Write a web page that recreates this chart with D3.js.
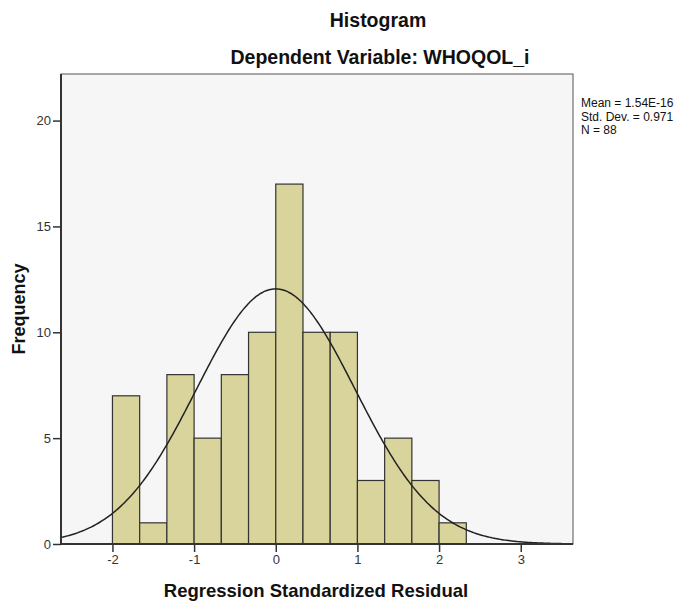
<!DOCTYPE html>
<html>
<head>
<meta charset="utf-8">
<script src="https://cdn.jsdelivr.net/npm/d3@7"></script>
<style>
  body { margin: 0; background: #fff; }
  text { font-family: Arial, "Liberation Sans", sans-serif; }
</style>
</head>
<body>
<svg id="chart"></svg>
<script>
// bins of width 1/3 starting at -2
var binStarts = [-2, -5/3, -4/3, -1, -2/3, -1/3, 0, 1/3, 2/3, 1, 4/3, 5/3, 2];
var binCounts = [7, 1, 8, 5, 8, 10, 17, 10, 10, 3, 5, 3, 1];
var binWidth = 1/3;
var xTicks = [-2, -1, 0, 1, 2, 3];
var yTicks = [0, 5, 10, 15, 20];
var statMean = 1.54e-16, statSd = 0.971, statN = 88;
var statLabels = ["Mean = 1.54E-16", "Std. Dev. = 0.971", "N = 88"];

var W = 684, H = 603;
var box = {left: 61, right: 573, top: 74, bottom: 544};

var svg = d3.select("#chart").attr("width", W).attr("height", H);

var xScale = d3.scaleLinear().domain([-2.63, 3.64]).range([box.left, box.right]);
var yScale = d3.scaleLinear().domain([0, 22.2]).range([box.bottom, box.top]);

drawFrame();
drawBars();
drawCurve();
drawAxes();
drawLabels();

function drawFrame() {
  svg.append("rect")
    .attr("x", box.left).attr("y", box.top)
    .attr("width", box.right - box.left).attr("height", box.bottom - box.top)
    .attr("fill", "#f6f6f6")
    .attr("stroke", "#555").attr("stroke-width", 1);
}

function drawBars() {
  svg.selectAll("rect.bar")
    .data(binStarts)
    .enter()
    .append("rect")
    .attr("class", "bar")
    .attr("x", function(d) { return xScale(d); })
    .attr("y", function(d, i) { return yScale(binCounts[i]); })
    .attr("width", function(d) { return xScale(d + binWidth) - xScale(d); })
    .attr("height", function(d, i) { return yScale(0) - yScale(binCounts[i]); })
    .attr("fill", "#d8d49c")
    .attr("stroke", "#333")
    .attr("stroke-width", 1.2);
}

// fitted normal curve from the reported mean / sd / N
function drawCurve() {
  var xs = d3.range(xScale.domain()[0], xScale.domain()[1] + 0.001, 0.02);
  var scaleFactor = statN * binWidth / (statSd * Math.sqrt(2 * Math.PI));
  var pts = xs.map(function(x) {
    var z = (x - statMean) / statSd;
    return [x, scaleFactor * Math.exp(-0.5 * z * z)];
  });
  var line = d3.line()
    .x(function(d) { return xScale(d[0]); })
    .y(function(d) { return yScale(d[1]); })
    .curve(d3.curveBasis);
  svg.append("path")
    .attr("d", line(pts))
    .attr("fill", "none")
    .attr("stroke", "#222")
    .attr("stroke-width", 1.5);
}

function drawAxes() {
  var xAxis = d3.axisBottom(xScale).tickValues(xTicks).tickSize(8).tickPadding(3)
    .tickFormat(d3.format("d"));
  var gx = svg.append("g")
    .attr("transform", "translate(0," + box.bottom + ")")
    .call(xAxis);
  gx.select(".domain").remove();
  gx.selectAll(".tick line").attr("stroke", "#333").attr("stroke-width", 1.5);
  gx.selectAll("text").attr("font-size", 13).attr("fill", "#333")
    .text(function(d) { return d < 0 ? "-" + Math.abs(d) : d; });

  var yAxis = d3.axisLeft(yScale).tickValues(yTicks).tickSize(8).tickPadding(2);
  var gy = svg.append("g")
    .attr("transform", "translate(" + box.left + ",0)")
    .call(yAxis);
  gy.select(".domain").remove();
  gy.selectAll(".tick line").attr("stroke", "#333").attr("stroke-width", 1.5);
  gy.selectAll("text").attr("font-size", 13).attr("fill", "#333");

  // darker left / bottom axis lines
  svg.append("line")
    .attr("x1", box.left).attr("x2", box.left)
    .attr("y1", box.top).attr("y2", box.bottom)
    .attr("stroke", "#333").attr("stroke-width", 2);
  svg.append("line")
    .attr("x1", box.left).attr("x2", box.right)
    .attr("y1", box.bottom).attr("y2", box.bottom)
    .attr("stroke", "#333").attr("stroke-width", 2);
}

function drawLabels() {
  svg.append("text")
    .attr("x", 378).attr("y", 27)
    .attr("text-anchor", "middle")
    .attr("font-size", 19.5).attr("font-weight", "bold").attr("fill", "#111")
    .text("Histogram");

  svg.append("text")
    .attr("x", 380).attr("y", 64)
    .attr("text-anchor", "middle")
    .attr("font-size", 19.5).attr("font-weight", "bold").attr("fill", "#111")
    .text("Dependent Variable: WHOQOL_i");

  svg.append("text")
    .attr("x", 316).attr("y", 597)
    .attr("text-anchor", "middle")
    .attr("font-size", 18.5).attr("font-weight", "bold").attr("fill", "#111")
    .text("Regression Standardized Residual");

  svg.append("text")
    .attr("transform", "translate(25,309) rotate(-90)")
    .attr("text-anchor", "middle")
    .attr("font-size", 18).attr("font-weight", "bold").attr("fill", "#111")
    .text("Frequency");

  svg.selectAll("text.stat")
    .data(statLabels)
    .enter()
    .append("text")
    .attr("class", "stat")
    .attr("x", 581)
    .attr("y", function(d, i) { return 107 + i * 13.5; })
    .attr("font-size", 12).attr("fill", "#111")
    .text(function(d) { return d; });
}
</script>
</body>
</html>
